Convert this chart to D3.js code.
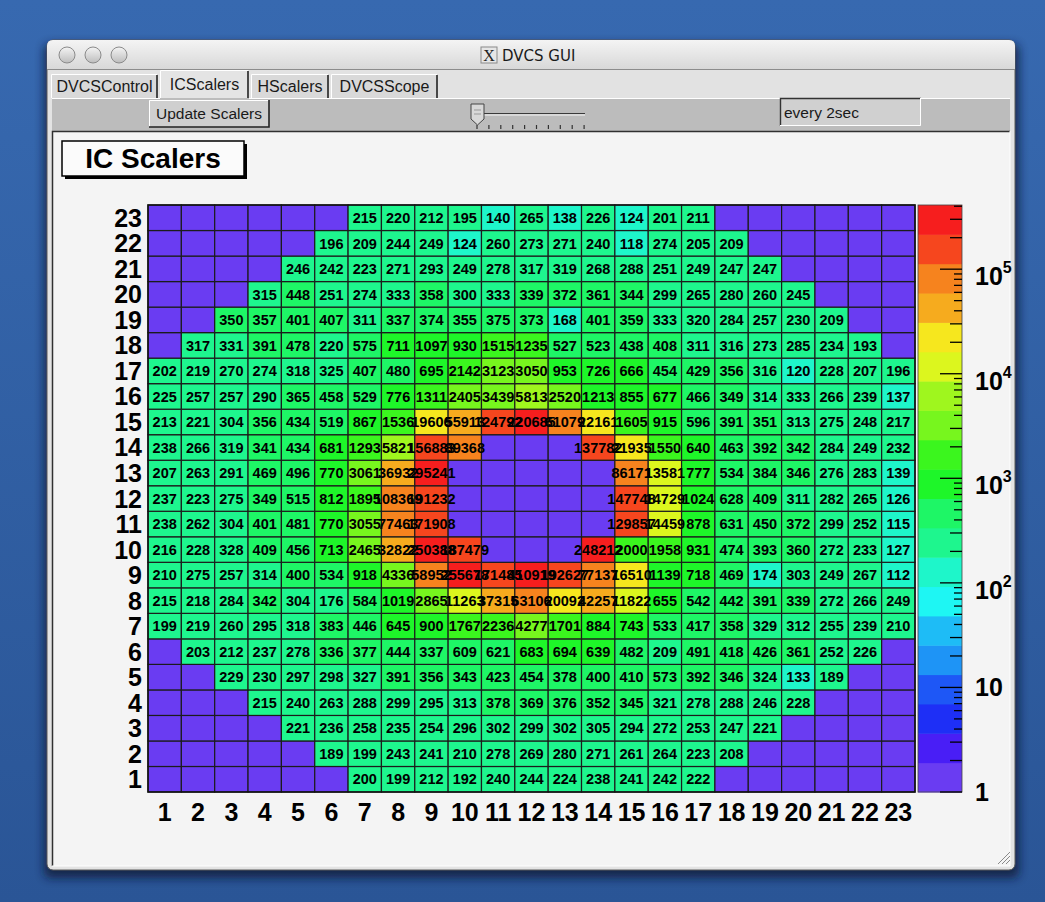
<!DOCTYPE html>
<html><head><meta charset="utf-8">
<script src="https://cdn.jsdelivr.net/npm/d3@7"></script>
<style>html,body{margin:0;padding:0;background:#2f5c9e;overflow:hidden}svg{display:block}</style>
</head><body>
<svg id="c" width="1045" height="902"></svg>
<script>
// ---------------- DATA ----------------
const columns = ["1","2","3","4","5","6","7","8","9","10","11","12","13","14","15","16","17","18","19","20","21","22","23"];
const rowNames = ["1","2","3","4","5","6","7","8","9","10","11","12","13","14","15","16","17","18","19","20","21","22","23"];
const tabs = ["DVCSControl","ICScalers","HScalers","DVCSScope"];
const colorbarDecades = [0,1,2,3,4,5];
// scaler counts per row (columns 1..23, 0 = empty bin)
const row23 = [0,0,0,0,0,0,215,220,212,195,140,265,138,226,124,201,211,0,0,0,0,0,0];
const row22 = [0,0,0,0,0,196,209,244,249,124,260,273,271,240,118,274,205,209,0,0,0,0,0];
const row21 = [0,0,0,0,246,242,223,271,293,249,278,317,319,268,288,251,249,247,247,0,0,0,0];
const row20 = [0,0,0,315,448,251,274,333,358,300,333,339,372,361,344,299,265,280,260,245,0,0,0];
const row19 = [0,0,350,357,401,407,311,337,374,355,375,373,168,401,359,333,320,284,257,230,209,0,0];
const row18 = [0,317,331,391,478,220,575,711,1097,930,1515,1235,527,523,438,408,311,316,273,285,234,193,0];
const row17 = [202,219,270,274,318,325,407,480,695,2142,3123,3050,953,726,666,454,429,356,316,120,228,207,196];
const row16 = [225,257,257,290,365,458,529,776,1311,2405,3439,5813,2520,1213,855,677,466,349,314,333,266,239,137];
const row15 = [213,221,304,356,434,519,867,1536,19606,55913,124792,220685,61079,22161,1605,915,596,391,351,313,275,248,217];
const row14 = [238,266,319,341,434,681,1293,5821,156883,89368,0,0,0,137782,21935,1550,640,463,392,342,284,249,232];
const row13 = [207,263,291,469,496,770,3061,36932,295241,0,0,0,0,0,86171,13581,777,534,384,346,276,283,139];
const row12 = [237,223,275,349,515,812,1895,108369,191232,0,0,0,0,0,147748,14729,1024,628,409,311,282,265,126];
const row11 = [238,262,304,401,481,770,3055,77463,171908,0,0,0,0,0,129857,14459,878,631,450,372,299,252,115];
const row10 = [216,228,328,409,456,713,2465,32822,250388,187479,0,0,0,248212,2000,1958,931,474,393,360,272,233,127];
const row09 = [210,275,257,314,400,534,918,4336,58952,255678,171485,410919,192627,77137,16510,1139,718,469,174,303,249,267,112];
const row08 = [215,218,284,342,304,176,584,1019,2865,11263,37315,63106,20092,42257,11822,655,542,442,391,339,272,266,249];
const row07 = [199,219,260,295,318,383,446,645,900,1767,2236,4277,1701,884,743,533,417,358,329,312,255,239,210];
const row06 = [0,203,212,237,278,336,377,444,337,609,621,683,694,639,482,209,491,418,426,361,252,226,0];
const row05 = [0,0,229,230,297,298,327,391,356,343,423,454,378,400,410,573,392,346,324,133,189,0,0];
const row04 = [0,0,0,215,240,263,288,299,295,313,378,369,376,352,345,321,278,288,246,228,0,0,0];
const row03 = [0,0,0,0,221,236,258,235,254,296,302,299,302,305,294,272,253,247,221,0,0,0,0];
const row02 = [0,0,0,0,0,189,199,243,241,210,278,269,280,271,261,264,223,208,0,0,0,0,0];
const row01 = [0,0,0,0,0,0,200,199,212,192,240,244,224,238,241,242,222,0,0,0,0,0,0];
const rowsBottomUp = [row01,row02,row03,row04,row05,row06,row07,row08,row09,row10,row11,row12,row13,row14,row15,row16,row17,row18,row19,row20,row21,row22,row23];

// ---------------- DRAW ----------------
const W = 1045, H = 902;
const svg = d3.select('#c');
const defs = svg.append('defs');
function lg(id, stops){ const g = defs.append('linearGradient').attr('id',id).attr('x1',0).attr('y1',0).attr('x2',0).attr('y2',1);
  stops.forEach(s=>g.append('stop').attr('offset',s[0]).attr('stop-color',s[1])); }
lg('bg',[[0,'#3769b0'],[1,'#2a5596']]);
lg('tb',[[0,'#f4f4f4'],[1,'#d8d8d8']]);
lg('btn',[[0,'#f4f4f4'],[1,'#bdbdbd']]);
const f = defs.append('filter').attr('id','blur').attr('x',-0.1).attr('y',-0.1).attr('width',1.2).attr('height',1.2);
f.append('feGaussianBlur').attr('stdDeviation',5);

svg.append('rect').attr('width',W).attr('height',H).attr('fill','url(#bg)');
// window shadow + body
svg.append('rect').attr('x',44).attr('y',44).attr('width',975).attr('height',834).attr('rx',6).attr('fill','#0a1830').attr('opacity',0.75).attr('filter','url(#blur)');
svg.append('rect').attr('x',47).attr('y',40).attr('width',968).attr('height',830).attr('rx',6).attr('fill','#e3e3e3').attr('stroke','#5a5a5a').attr('stroke-width',1);
// title bar
svg.append('path').attr('d','M47,69 L47,46 Q47,40 53,40 L1009,40 Q1015,40 1015,46 L1015,69 Z').attr('fill','url(#tb)');
svg.append('line').attr('x1',47).attr('x2',1015).attr('y1',69.5).attr('y2',69.5).attr('stroke','#8c8c8c');
[67,93,119].forEach(cx=>{
  svg.append('circle').attr('cx',cx).attr('cy',55).attr('r',8).attr('fill','url(#btn)').attr('stroke','#8a8a8a').attr('stroke-width',1);
});
svg.append('rect').attr('x',481).attr('y',47).attr('width',16).attr('height',16).attr('fill','#e6e6e6').attr('stroke','#8a8a8a');
svg.append('text').attr('x',489).attr('y',61).attr('text-anchor','middle').attr('font-family','Liberation Serif').attr('font-size',16).attr('fill','#222').text('X');
svg.append('text').attr('x',502).attr('y',61).attr('font-family','DejaVu Sans').attr('font-size',15).attr('fill','#1a1a1a').text('DVCS GUI');

// tab row
svg.append('rect').attr('x',48).attr('y',70).attr('width',966).attr('height',28).attr('fill','#e2e2e2');
const tabX = [[51,158],[160,249],[251,329],[331,438]];
tabs.forEach((t,i)=>{
  const sel = i===1; const x0=tabX[i][0], x1=tabX[i][1]; const y0 = sel?70:74;
  svg.append('rect').attr('x',x0).attr('y',y0).attr('width',x1-x0).attr('height',98-y0).attr('fill',sel?'#e4e4e4':'#d9d9d9');
  svg.append('path').attr('d',`M${x0+0.5},98 L${x0+0.5},${y0+0.5} L${x1-1},${y0+0.5}`).attr('fill','none').attr('stroke','#ffffff').attr('stroke-width',1);
  svg.append('path').attr('d',`M${x1-1},${y0+1} L${x1-1},98`).attr('fill','none').attr('stroke','#222').attr('stroke-width',1.6);
  svg.append('text').attr('x',(x0+x1)/2).attr('y',sel?90:92).attr('text-anchor','middle').attr('font-family','Liberation Sans').attr('font-size',16).attr('fill','#1a1a1a').text(t);
});
// toolbar
svg.append('rect').attr('x',52).attr('y',98).attr('width',958).attr('height',33).attr('fill','#bcbcbc');
svg.append('line').attr('x1',52).attr('x2',160).attr('y1',98.5).attr('y2',98.5).attr('stroke','#fff');
svg.append('line').attr('x1',249).attr('x2',1010).attr('y1',98.5).attr('y2',98.5).attr('stroke','#fff');
// Update Scalers button
svg.append('rect').attr('x',149).attr('y',100).attr('width',120).attr('height',27).attr('fill','#cfcfcf');
svg.append('path').attr('d','M149.5,127 L149.5,100.5 L269,100.5').attr('fill','none').attr('stroke','#fff');
svg.append('path').attr('d','M149,127 L269,127 L269,100').attr('fill','none').attr('stroke','#222').attr('stroke-width',1.6);
svg.append('text').attr('x',209).attr('y',119).attr('text-anchor','middle').attr('font-family','Liberation Sans').attr('font-size',15.5).attr('fill','#1a1a1a').text('Update Scalers');
// slider
svg.append('line').attr('x1',478).attr('x2',585).attr('y1',113.5).attr('y2',113.5).attr('stroke','#3a3a3a').attr('stroke-width',1.2);
svg.append('line').attr('x1',478).attr('x2',585).attr('y1',115).attr('y2',115).attr('stroke','#f4f4f4').attr('stroke-width',1);
d3.range(10).forEach(i=>{ const tx = 477 + i*11.9;
  svg.append('line').attr('x1',tx).attr('x2',tx).attr('y1',125).attr('y2',129).attr('stroke','#333').attr('stroke-width',1.2); });
svg.append('path').attr('d','M471,104 L484,104 L484,119 L477.5,125 L471,119 Z').attr('fill','#d8d8d8').attr('stroke','#444').attr('stroke-width',1);
svg.append('path').attr('d','M474,110 L481,110 M474,114 L481,114').attr('stroke','#999').attr('stroke-width',1);
// text entry
svg.append('rect').attr('x',780).attr('y',98).attr('width',141).attr('height',28).attr('fill','#d0d0d0');
svg.append('path').attr('d','M780.5,126 L780.5,98.5 L921,98.5').attr('fill','none').attr('stroke','#333').attr('stroke-width',1.4);
svg.append('path').attr('d','M780,125.5 L920.5,125.5 L920.5,98').attr('fill','none').attr('stroke','#fff');
svg.append('text').attr('x',784).attr('y',118).attr('font-family','Liberation Sans').attr('font-size',15.5).attr('fill','#1a1a1a').text('every 2sec');

// canvas
svg.append('rect').attr('x',52).attr('y',131).attr('width',958).attr('height',735).attr('fill','#f4f4f4');
svg.append('path').attr('d','M52.5,866 L52.5,131.5 L1010,131.5').attr('fill','none').attr('stroke','#303030').attr('stroke-width',1.5);
svg.append('path').attr('d','M52,866 L1010,866 L1010,131').attr('fill','none').attr('stroke','#ffffff').attr('stroke-width',1);
// resize grip
[0,4,8].forEach(o=>svg.append('line').attr('x1',998+o).attr('y1',864).attr('x2',1010).attr('y2',852+o).attr('stroke','#8a8a8a').attr('stroke-width',1));

// title pave
svg.append('rect').attr('x',65).attr('y',144).attr('width',182).attr('height',35).attr('fill','#000');
svg.append('rect').attr('x',62).attr('y',141).attr('width',182).attr('height',35).attr('fill','#fbfbfb').attr('stroke','#000').attr('stroke-width',1.5);
svg.append('text').attr('x',153).attr('y',168).attr('text-anchor','middle').attr('font-family','Liberation Sans').attr('font-weight','bold').attr('font-size',28).attr('fill','#000').text('IC Scalers');

// ---------------- HEATMAP ----------------
const allVals = rowsBottomUp.flat();
const zMax = d3.max(allVals);
const nLevels = 20, nPretty = 50;
const palette = d3.range(nLevels).map(k=>{
  const idx = Math.floor((k+0.99)*nPretty/nLevels);
  const hue = 280 - (idx+1)*280/nPretty;
  return d3.hsl(hue, 0.92, 0.54).formatHex();
});
palette[0] = '#6a3cf2';
const zLog = d3.scaleLog().domain([1, zMax]).range([0, nLevels]);
const level = v => v > 0 ? Math.max(0, Math.min(nLevels-1, Math.floor(0.01 + zLog(v)))) : 0;

const fx = [148, 915], fy = [205, 792];
const x = d3.scaleBand().domain(columns).range(fx);
const y = d3.scaleBand().domain(rowNames).range([fy[1], fy[0]]);
const cells = [];
rowsBottomUp.forEach((row,ri)=>row.forEach((v,ci)=>cells.push({r:rowNames[ri], c:columns[ci], v})));

const g = svg.append('g');
g.selectAll('rect.cell').data(cells).join('rect').attr('class','cell')
  .attr('x',d=>x(d.c)).attr('y',d=>y(d.r)).attr('width',x.bandwidth()).attr('height',y.bandwidth())
  .attr('fill',d=>palette[level(d.v)]).attr('stroke','#1c1c1c').attr('stroke-width',1.2);
g.selectAll('text.val').data(cells.filter(d=>d.v>0)).join('text').attr('class','val')
  .attr('x',d=>x(d.c)+x.bandwidth()/2).attr('y',d=>y(d.r)+y.bandwidth()/2).attr('dy','0.36em')
  .attr('text-anchor','middle').attr('font-family','Liberation Sans').attr('font-weight','bold').attr('font-size',14.5).attr('fill','#000')
  .text(d=>d.v);
svg.append('rect').attr('x',fx[0]).attr('y',fy[0]).attr('width',fx[1]-fx[0]).attr('height',fy[1]-fy[0]).attr('fill','none').attr('stroke','#111').attr('stroke-width',1.5);

// axis labels
svg.append('g').selectAll('text').data(columns).join('text')
  .attr('x',d=>x(d)+x.bandwidth()/2).attr('y',821).attr('text-anchor','middle')
  .attr('font-family','Liberation Sans').attr('font-weight','bold').attr('font-size',25).attr('fill','#000').text(d=>d);
svg.append('g').selectAll('text').data(rowNames).join('text')
  .attr('x',142).attr('y',d=>y(d)+y.bandwidth()/2).attr('dy','0.36em').attr('text-anchor','end')
  .attr('font-family','Liberation Sans').attr('font-weight','bold').attr('font-size',25).attr('fill','#000').text(d=>d);

// ---------------- COLOR BAR ----------------
const cb = [918, 962];
const zy = d3.scaleLog().domain([1, zMax]).range([fy[1], fy[0]]);
const step = Math.log10(zMax)/nLevels;
svg.append('g').selectAll('rect').data(d3.range(nLevels)).join('rect')
  .attr('x',cb[0]).attr('width',cb[1]-cb[0])
  .attr('y',k=>zy(Math.pow(10,(k+1)*step))).attr('height',k=>zy(Math.pow(10,k*step))-zy(Math.pow(10,(k+1)*step))+0.5)
  .attr('fill',k=>palette[k]);
svg.append('rect').attr('x',cb[0]).attr('y',fy[0]).attr('width',cb[1]-cb[0]).attr('height',fy[1]-fy[0]).attr('fill','none').attr('stroke','#444').attr('stroke-width',0.8);
const tickVals = zy.ticks(60).filter(v=>v<=zMax);
svg.append('g').selectAll('line').data(tickVals).join('line')
  .attr('x1',v=>{ const m = Math.round(v/Math.pow(10,Math.floor(Math.log10(v)+1e-9))); return cb[1] - (m===1?22:(m<=3?12:8)); })
  .attr('x2',cb[1]).attr('y1',v=>zy(v)).attr('y2',v=>zy(v)).attr('stroke','#000').attr('stroke-width',1.3);
const cbl = svg.append('g').selectAll('text').data(colorbarDecades).join('text')
  .attr('x',975).attr('y',d=>zy(Math.pow(10,d)) + (d>=2 ? 7 : 0)).attr('dy','0.36em')
  .attr('font-family','Liberation Sans').attr('font-weight','bold').attr('font-size',25).attr('fill','#000');
cbl.each(function(d){
  const t = d3.select(this);
  if(d===0){ t.text('1'); }
  else if(d===1){ t.text('10'); }
  else { t.append('tspan').text('10'); t.append('tspan').attr('font-size',16).attr('dy','-0.75em').text(d); }
});
</script>
</body></html>
